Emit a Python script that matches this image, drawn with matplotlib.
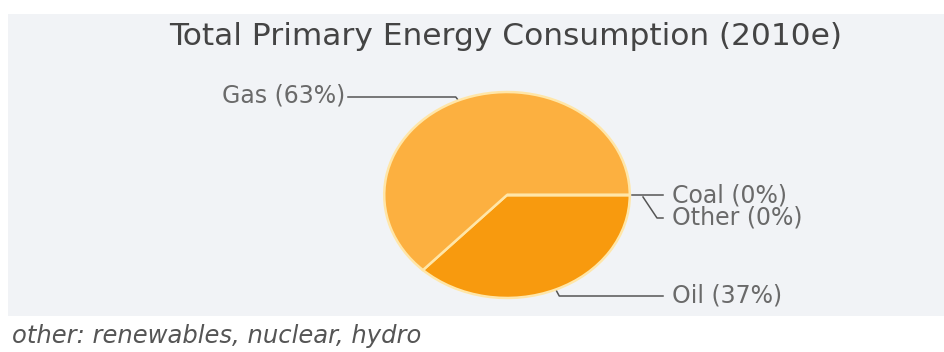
import numpy as np
import matplotlib
matplotlib.use("Agg")
import matplotlib.pyplot as plt
from matplotlib.patches import Rectangle

title = "Total Primary Energy Consumption (2010e)"
note = "other: renewables, nuclear, hydro"
labels = ["Oil", "Gas", "Coal", "Other"]
shares = [37, 63, 0, 0]
colors = ["#F89A0E", "#FCB040", "#F5B041", "#F5B041"]

W, H = 944, 352
fig = plt.figure(figsize=(W / 100, H / 100), dpi=100)
fig.patch.set_facecolor("white")

# overlay axes in pixel coords (y down)
ov = fig.add_axes([0, 0, 1, 1])
ov.set_xlim(0, W)
ov.set_ylim(H, 0)
ov.axis("off")
ov.add_patch(Rectangle((8, 14), W - 8, 302, facecolor="#F1F3F6", edgecolor="none", zorder=0))

# pie as ellipse: axes box not square
cx, cy, rx, ry = 507, 195, 124, 104
pax = fig.add_axes([(cx - rx) / W, (H - cy - ry) / H, 2 * rx / W, 2 * ry / H])
wedges, _ = pax.pie(shares, colors=colors, startangle=0, counterclock=False,
                    wedgeprops=dict(edgecolor="#FFE6A8", linewidth=1.8))
pax.set_aspect("auto")
pax.set_xlim(-1.01, 1.01)
pax.set_ylim(-1.01, 1.01)
pax.axis("off")

def anchor(w):
    a = np.deg2rad((w.theta1 + w.theta2) / 2)
    return cx + rx * np.cos(a), cy - ry * np.sin(a)

lc = "#555555"
tc = "#6a6a6a"
fs = 17

# Gas label (left)
gx, gy = anchor(wedges[1])
ov.plot([348, gx - 2, gx], [97, 97, gy], color=lc, lw=1.1)
ov.text(345, 103, f"{labels[1]} ({shares[1]}%)", ha="right", va="baseline", fontsize=fs, color=tc)

# Oil label (right bottom)
ox, oy = anchor(wedges[0])
ov.plot([ox, ox + 3, 663], [oy, 296, 296], color=lc, lw=1.1)
ov.text(672, 303, f"{labels[0]} ({shares[0]}%)", ha="left", va="baseline", fontsize=fs, color=tc)

# Coal / Other (zero slices)
kx, ky = anchor(wedges[2])
ov.plot([kx + 1, 663], [ky, ky], color=lc, lw=1.1)
ov.text(672, 202, f"{labels[2]} ({shares[2]}%)", ha="left", va="baseline", fontsize=fs, color=tc)
ov.plot([kx + 12, kx + 26, 663], [ky + 2, 218, 218], color=lc, lw=1.1)
ov.text(672, 225, f"{labels[3]} ({shares[3]}%)", ha="left", va="baseline", fontsize=fs, color=tc)

ov.text(506, 45, title, ha="center", va="baseline", fontsize=22.5, color="#444444")
ov.text(12, 343, note, ha="left", va="baseline", fontsize=17.5, color="#555555", style="italic")

fig.savefig("out.png", dpi=100, facecolor="white")
